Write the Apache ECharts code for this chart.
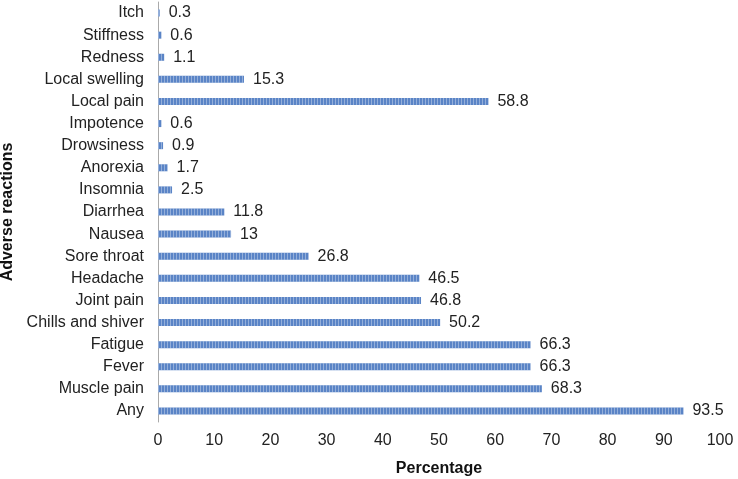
<!DOCTYPE html>
<html><head><meta charset="utf-8">
<script src="https://cdn.jsdelivr.net/npm/echarts@6/dist/echarts.min.js"></script>
<style>html,body{margin:0;padding:0;background:#fff}#c{width:738px;height:479px}</style>
</head><body><div id="c"></div>
<script>
const categories = ["Any","Muscle pain","Fever","Fatigue","Chills and shiver","Joint pain","Headache","Sore throat","Nausea","Diarrhea","Insomnia","Anorexia","Drowsiness","Impotence","Local pain","Local swelling","Redness","Stiffness","Itch"];
const values = [93.5,68.3,66.3,66.3,50.2,46.8,46.5,26.8,13,11.8,2.5,1.7,0.9,0.6,58.8,15.3,1.1,0.6,0.3];
const xTicks = [0,10,20,30,40,50,60,70,80,90,100];
const chart = echarts.init(document.getElementById('c'));
const font = 'Liberation Sans, Arial, sans-serif';
chart.setOption({
  animation: false,
  grid: {left: 158, right: 18, top: 2, bottom: 57, containLabel: false, outerBoundsMode: 'none'},
  xAxis: {
    type: 'value', min: xTicks[0], max: xTicks[xTicks.length-1], interval: 10,
    name: 'Percentage', nameLocation: 'middle', nameGap: 39,
    nameTextStyle: {fontFamily: font, fontSize: 16, fontWeight: 'bold', color: '#111'},
    axisLine: {show: false}, axisTick: {show: false}, splitLine: {show: false},
    axisLabel: {fontFamily: font, fontSize: 16, color: '#222', margin: 11}
  },
  yAxis: {
    type: 'category', data: categories,
    name: 'Adverse reactions', nameLocation: 'middle', nameGap: 140, nameRotate: 90,
    nameTextStyle: {fontFamily: font, fontSize: 16, fontWeight: 'bold', color: '#111'},
    axisLine: {show: true, lineStyle: {color: '#aaa', width: 1}},
    axisTick: {show: false},
    axisLabel: {fontFamily: font, fontSize: 16, color: '#222', margin: 14}
  },
  series: [{
    type: 'bar', data: values, barWidth: 7,
    itemStyle: {color: '#5a84c6', decal: {symbol: 'rect', dashArrayX: [1, 0], dashArrayY: [1, 2], rotation: Math.PI/2, color: 'rgba(255,255,255,0.35)'}},
    label: {show: true, position: 'right', distance: 9, fontFamily: font, fontSize: 16, color: '#222'}
  }]
});
</script></body></html>
